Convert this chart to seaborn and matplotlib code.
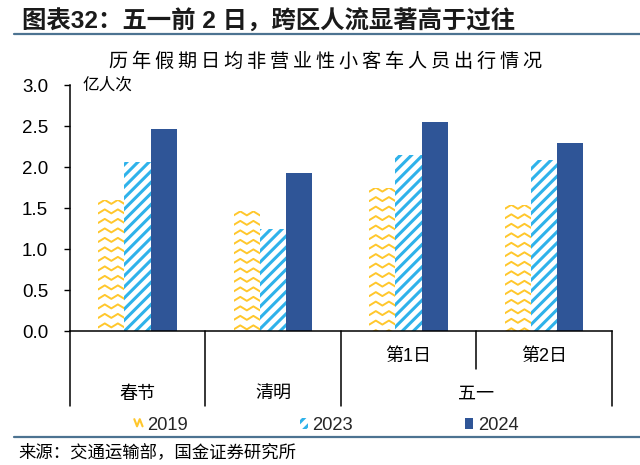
import numpy as np
import pandas as pd
import matplotlib
matplotlib.use('Agg')
import matplotlib.pyplot as plt
import matplotlib.transforms as mtransforms
from matplotlib.patches import Patch
from matplotlib.lines import Line2D
from matplotlib.legend_handler import HandlerBase
import seaborn as sns

# ---------------- data ----------------
categories = ['春节', '清明', '五一第1日', '五一第2日']
cat_group = ['春节', '清明', '五一', '五一']
sub_labels = [None, None, '第1日', '第2日']
years = ['2019', '2023', '2024']
v2019 = [1.60, 1.46, 1.75, 1.54]
v2023 = [2.06, 1.24, 2.15, 2.09]
v2024 = [2.47, 1.93, 2.55, 2.29]
yticks = [0.0, 0.5, 1.0, 1.5, 2.0, 2.5, 3.0]

header = '图表32：五一前 2 日，跨区人流显著高于过往'
title = '历年假期日均非营业性小客车人员出行情况'
unit = '亿人次'
source = '来源：交通运输部，国金证券研究所'

c2019 = '#FFC72C'
c2023 = '#2FB2EA'
c2024 = '#2F5597'
rule_color = '#4C7391'

# ---------------- style ----------------
sns.set_theme(style='white')
plt.rcParams['font.family'] = ['Liberation Sans', 'Noto Sans CJK SC', 'DejaVu Sans']
plt.rcParams['hatch.linewidth'] = 2.2

df = pd.DataFrame({
    'cat': categories * len(years),
    'year': [y for y in years for _ in categories],
    'val': v2019 + v2023 + v2024,
})

fig = plt.figure(figsize=(6.4, 4.65), dpi=100)
ax = fig.add_axes([0.109, 0.288, 0.847, 0.529])
sns.barplot(data=df, x='cat', y='val', hue='year', order=categories, hue_order=years,
            palette=[c2019, c2023, c2024], width=0.58, saturation=1, legend=False,
            errorbar=None, ax=ax)
ax.set_xlim(-0.5, len(categories) - 0.5)
ax.set_ylim(0, 3)

# bar fills
for p in ax.containers[0]:
    p.set_facecolor('white'); p.set_edgecolor('none'); p.set_linewidth(0)
for p in ax.containers[1]:
    p.set_facecolor('white'); p.set_edgecolor(c2023); p.set_hatch('///'); p.set_linewidth(0)
for p in ax.containers[2]:
    p.set_facecolor(c2024); p.set_edgecolor('none'); p.set_linewidth(0)

# zigzag fill for 2019 bars (derived from each bar's geometry)
sx = ax.bbox.width / (len(categories))
sy = ax.bbox.height / 3.0
amp = 4.0 / sy
period = 9.5 / sy
for p in ax.containers[0]:
    x0, w, h = p.get_x(), p.get_width(), p.get_height()
    xs = x0 + w * np.array([-0.25, 0.0, 0.25, 0.5, 0.75, 1.0, 1.25])
    base = h - amp
    while base > -period:
        ys = base + amp * np.array([1, 0, 1, 0, 1, 0, 1])
        ln = Line2D(xs, ys, color=c2019, lw=1.4, solid_joinstyle='round')
        ax.add_line(ln)
        ln.set_clip_path(p)
        base -= period

# axes styling
ax.set_xlabel(''); ax.set_ylabel('')
ax.set_xticks([])
ax.set_yticks(yticks)
ax.set_yticklabels([f'{t:.1f}' for t in yticks])
ax.tick_params(axis='y', left=True, direction='out', length=4.5, width=1.0,
               color='black', pad=11, labelsize=13.5, labelcolor='black')
for s in ['top', 'right']:
    ax.spines[s].set_visible(False)
for s in ['left', 'bottom']:
    ax.spines[s].set_color('black'); ax.spines[s].set_linewidth(1.1)

ax.text(0.024, 1.0, unit, transform=ax.transAxes, ha='left', va='center',
        fontsize=12, family=['Noto Sans CJK SC'], color='black')

# multi-level category axis
trans = mtransforms.blended_transform_factory(ax.transData, ax.transAxes)
n = len(categories)
full_y, half_y = -0.305, -0.154
for i in range(n + 1):
    x = i - 0.5
    if i == 0 or i == n or cat_group[i] != cat_group[i - 1]:
        y_end = full_y
    else:
        y_end = half_y
    ax.add_line(Line2D([x, x], [0, y_end], transform=trans, color='black', lw=1.1, clip_on=False))
seen = []
for g in cat_group:
    if g not in seen:
        seen.append(g)
for g in seen:
    idx = [i for i, c in enumerate(cat_group) if c == g]
    ax.text(np.mean(idx), -0.256, g, transform=trans, ha='center', va='center',
            fontsize=13, color='black', family=['Noto Sans CJK SC'])
for i, s in enumerate(sub_labels):
    if s:
        ax.text(i, -0.102, s, transform=trans, ha='center', va='center',
                fontsize=13, color='black')

# legend
class ZigzagHandler(HandlerBase):
    def create_artists(self, legend, orig_handle, xdescent, ydescent, width, height, fontsize, trans):
        xs = np.array([0, 0.33, 0.66, 1.0]) * width - xdescent
        ys = np.array([0.85, 0.2, 0.85, 0.2]) * height - ydescent
        return [Line2D(xs, ys, color=c2019, lw=1.5, transform=trans)]

h2019 = Line2D([], [])
h2023 = Patch(facecolor='white', edgecolor=c2023, hatch='///', lw=0)
h2024 = Patch(facecolor=c2024, edgecolor='none', lw=0)
fig.legend([h2019, h2023, h2024], years, loc='center', bbox_to_anchor=(0.51, 0.086),
           ncol=3, frameon=False, fontsize=13.2, handlelength=0.45, handleheight=0.55,
           handletextpad=0.25, columnspacing=6.1, handler_map={h2019: ZigzagHandler()})

# header, title, rules, source
fig.text(0.034, 0.953, header, ha='left', va='center', fontsize=17.6, fontweight='bold',
         color='#1a1a1a')
fig.add_artist(Line2D([0.022, 1.0], [0.927, 0.927], transform=fig.transFigure,
                      color=rule_color, lw=1.6))
fig.text(0.508, 0.867, '\u2009'.join(title), ha='center', va='center', fontsize=13.8,
         family=['Noto Sans CJK SC', 'DejaVu Sans'], color='black')
fig.add_artist(Line2D([0.022, 1.0], [0.060, 0.060], transform=fig.transFigure,
                      color=rule_color, lw=1.6))
fig.text(0.028, 0.028, source, ha='left', va='center', fontsize=12.5,
         family=['Noto Sans CJK SC'], color='black')

fig.savefig('out.png', dpi=100)
